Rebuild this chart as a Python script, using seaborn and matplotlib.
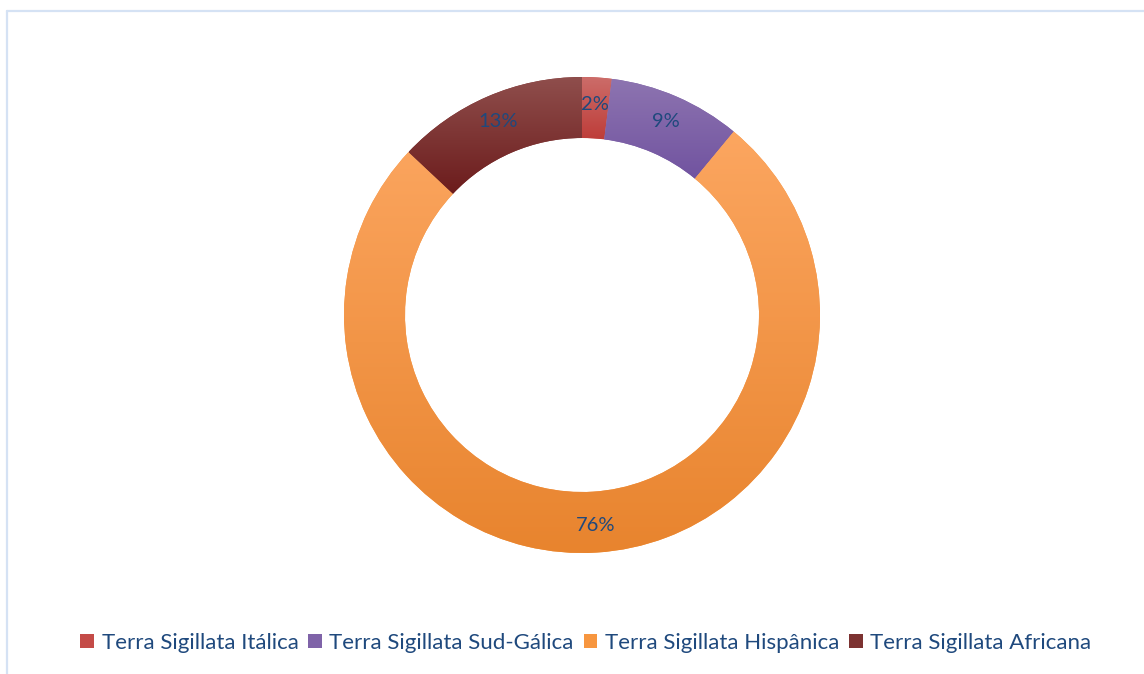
import numpy as np
import matplotlib
matplotlib.use("Agg")
import matplotlib.pyplot as plt
import seaborn as sns
from matplotlib.colors import LinearSegmentedColormap
from matplotlib.patches import Rectangle
from matplotlib.lines import Line2D

# Share of each terra sigillata production (percent)
categories = [
    "Terra Sigillata Itálica",
    "Terra Sigillata Sud-Gálica",
    "Terra Sigillata Hispânica",
    "Terra Sigillata Africana",
]
shares = [2, 9, 76, 13]

# Base colour per slice, plus the light top / dark bottom of its gradient
base_colors = sns.color_palette(["#C44B47", "#7F63A8", "#F7963F", "#7C3231"])
top_colors = ["#CC6D6A", "#8D74B0", "#FCA660", "#8F4E4C"]
bottom_colors = ["#BE3D39", "#7153A0", "#E8842E", "#6C1C1C"]

TEXT_BLUE = "#1F497D"

sns.set_theme(style="white")
plt.rcParams["font.family"] = ["Lato", "DejaVu Sans"]

W, H = 1144, 674
fig = plt.figure(figsize=(W / 100, H / 100), dpi=100)
fig.patch.set_facecolor("white")
ax = fig.add_axes([0, 0, 1, 1])

R = 238          # outer radius in pixels
RING = 61        # ring thickness
cx, cy = 582, H - 315

wedges, texts, autotexts = ax.pie(
    shares,
    radius=R,
    center=(cx, cy),
    startangle=90,
    counterclock=False,
    colors=base_colors,
    wedgeprops=dict(width=RING, linewidth=0, antialiased=True),
    autopct="%1.0f%%",
    pctdistance=0.885,
    textprops=dict(color=TEXT_BLUE, fontsize=14.5),
)

# vertical gradient inside each slice
grad = np.linspace(0, 1, 256).reshape(-1, 1)
for w, c_top, c_bot in zip(wedges, top_colors, bottom_colors):
    ext = w.get_path().get_extents()
    cmap = LinearSegmentedColormap.from_list("g", [c_bot, c_top])
    im = ax.imshow(
        grad,
        cmap=cmap,
        origin="lower",
        extent=[ext.x0, ext.x1, ext.y0, ext.y1],
        interpolation="bilinear",
        zorder=w.get_zorder() + 0.5,
    )
    im.set_clip_path(w)

for t in autotexts:
    t.set_zorder(10)

ax.set_xlim(0, W)
ax.set_ylim(0, H)
ax.set_aspect("equal")
ax.axis("off")

# legend along the bottom
handles = [Rectangle((0, 0), 1, 1, facecolor=c, edgecolor="none") for c in base_colors]
leg = fig.legend(
    handles,
    categories,
    loc="center",
    bbox_to_anchor=(586 / W, 1 - 643 / H),
    ncol=4,
    frameon=False,
    fontsize=16,
    labelcolor=TEXT_BLUE,
    handlelength=0.6,
    handleheight=0.6,
    handletextpad=0.35,
    columnspacing=0.45,
)

# thin light-blue frame (top and left edges)
frame_color = "#D5E2F4"
fig.add_artist(Line2D([6.5 / W, 1.0], [1 - 10.5 / H, 1 - 10.5 / H],
                      transform=fig.transFigure, color=frame_color, lw=1.6))
fig.add_artist(Line2D([6.5 / W, 6.5 / W], [0, 1 - 10.5 / H],
                      transform=fig.transFigure, color=frame_color, lw=1.6))

fig.savefig("out.png", dpi=100, facecolor="white")
